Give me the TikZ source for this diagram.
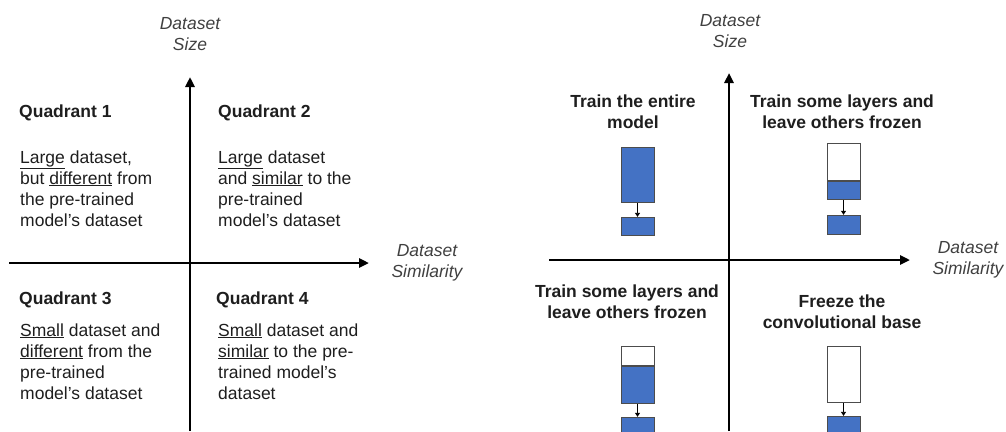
\documentclass[tikz,border=0pt]{standalone}
\usepackage{fontspec}
\setmainfont{Liberation Sans}
\usetikzlibrary{arrows.meta,positioning}
\definecolor{layerblue}{HTML}{4472C4}
\definecolor{inkgrey}{HTML}{1E1E1E}

\tikzset{
    axis/.style={-{Triangle[length=10pt, width=9pt]}, line width=2.6pt},
    axislabel/.style={font=\fontsize{17.5}{21}\selectfont\itshape, text=black!75, align=center, inner sep=0pt, anchor=base},
    quadtitle/.style={font=\fontsize{17.5}{21}\selectfont\bfseries, text=inkgrey, inner sep=0pt, anchor=base west},
    quadbody/.style={font=\fontsize{17.5}{21}\selectfont, text=inkgrey, align=left, inner sep=0pt, anchor=base west},
    strategy/.style={font=\fontsize{17.5}{21}\selectfont\bfseries, text=inkgrey, align=center, inner sep=0pt, anchor=base},
    frozen/.style={draw=black!70, fill=white, line width=0.9pt, minimum width=33pt, inner sep=0pt, anchor=north},
    trained/.style={frozen, fill=layerblue},
    flow/.style={-{Triangle[length=4pt, width=5pt]}, line width=0.8pt}
}

\begin{document}
\begin{tikzpicture}[x=1pt, y=-1pt]
    \useasboundingbox (0,0) rectangle (1006,431);

    % left panel: the four quadrants
    % (base of a multi-line node = baseline of its last line)
    \coordinate (lbot) at (190,431);
    \coordinate (ltop) at (190,77);
    \coordinate (lleft) at (9,263);
    \coordinate (lright) at (369,263);
    \draw[axis] (lbot) -- (ltop);
    \draw[axis] (lleft) -- (lright);
    \node[axislabel] (lsize) at (190,50) {Dataset\\Size};
    \node[axislabel] (lsim) at (427,277) {Dataset\\Similarity};

    \node[quadtitle] (q1) at (19,117) {Quadrant 1};
    \node[quadbody] (q1txt) at (20,226) {\underline{Large} dataset,\\but \underline{different} from\\the pre-trained\\model's dataset};
    \node[quadtitle] (q2) at (218,117) {Quadrant 2};
    \node[quadbody] (q2txt) at (218,226) {\underline{Large} dataset\\and \underline{similar} to the\\pre-trained\\model's dataset};
    \node[quadtitle] (q3) at (19,304) {Quadrant 3};
    \node[quadbody] (q3txt) at (20,399) {\underline{Small} dataset and\\\underline{different} from the\\pre-trained\\model's dataset};
    \node[quadtitle] (q4) at (216,304) {Quadrant 4};
    \node[quadbody] (q4txt) at (218,399) {\underline{Small} dataset and\\\underline{similar} to the pre-\\trained model's\\dataset};

    % right panel: what to train
    \coordinate (rbot) at (729,431);
    \coordinate (rtop) at (729,73);
    \coordinate (rleft) at (549,260);
    \coordinate (rright) at (910,260);
    \draw[axis] (rbot) -- (rtop);
    \draw[axis] (rleft) -- (rright);
    \node[axislabel] (rsize) at (730,47) {Dataset\\Size};
    \node[axislabel] (rsim) at (968,274) {Dataset\\Similarity};

    \node[strategy] (s1) at (633,128) {Train the entire\\model};
    \node[strategy] (s2) at (842,128) {Train some layers and\\leave others frozen};
    \node[strategy] (s3) at (627,318) {Train some layers and\\leave others frozen};
    \node[strategy] (s4) at (842,328) {Freeze the\\convolutional base};

    % quadrant 1: everything trained
    \node[trained, minimum height=55pt] (b1) at (637.5,147) {};
    \node[trained, minimum height=18pt, below=14pt of b1] (c1) {};
    \draw[flow] (b1) -- (c1);

    % quadrant 2
    \node[frozen, minimum height=37pt] (f2) at (843.5,143) {};
    \node[trained, minimum height=18pt, below=0pt of f2] (b2) {};
    \node[trained, minimum height=19pt, below=15pt of b2] (c2) {};
    \draw[flow] (b2) -- (c2);

    % quadrant 3
    \node[frozen, minimum height=19pt] (f3) at (637.5,346) {};
    \node[trained, minimum height=37pt, below=0pt of f3] (b3) {};
    \node[trained, minimum height=19pt, below=13pt of b3] (c3) {};
    \draw[flow] (b3) -- (c3);

    % quadrant 4: base frozen
    \node[frozen, minimum height=56pt] (f4) at (843.5,346) {};
    \node[trained, minimum height=19pt, below=13pt of f4] (c4) {};
    \draw[flow] (f4) -- (c4);
\end{tikzpicture}
\end{document}
